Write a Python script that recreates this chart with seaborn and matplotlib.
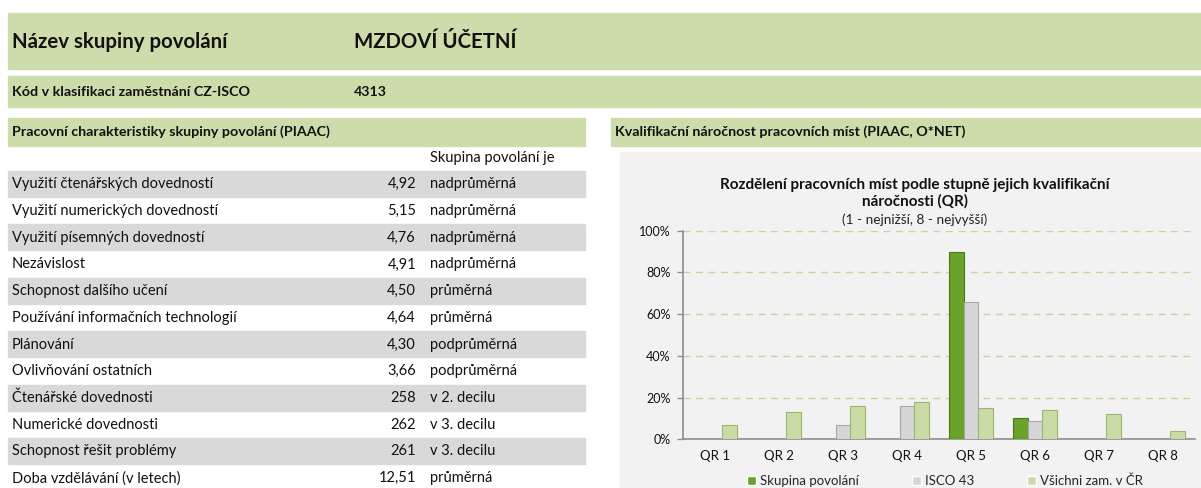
import numpy as np
import pandas as pd
import seaborn as sns
import matplotlib.pyplot as plt
from matplotlib.patches import Rectangle
from matplotlib.ticker import PercentFormatter

# header
occupation_title = "Název skupiny povolání"
occupation_name = "MZDOVÍ ÚČETNÍ"
code_title = "Kód v klasifikaci zaměstnání CZ-ISCO"
code_value = "4313"
left_section = "Pracovní charakteristiky skupiny povolání (PIAAC)"
right_section = "Kvalifikační náročnost pracovních míst (PIAAC, O*NET)"
level_header = "Skupina povolání je"

# table of characteristics
char_labels = ["Využití čtenářských dovedností", "Využití numerických dovedností",
               "Využití písemných dovedností", "Nezávislost", "Schopnost dalšího učení",
               "Používání informačních technologií", "Plánování", "Ovlivňování ostatních",
               "Čtenářské dovednosti", "Numerické dovednosti", "Schopnost řešit problémy",
               "Doba vzdělávání (v letech)"]
char_values = ["4,92", "5,15", "4,76", "4,91", "4,50", "4,64", "4,30", "3,66",
               "258", "262", "261", "12,51"]
char_levels = ["nadprůměrná", "nadprůměrná", "nadprůměrná", "nadprůměrná", "průměrná",
               "průměrná", "podprůměrná", "podprůměrná", "v 2. decilu", "v 3. decilu",
               "v 3. decilu", "průměrná"]

# chart data (% of jobs)
qr_labels = ["QR 1", "QR 2", "QR 3", "QR 4", "QR 5", "QR 6", "QR 7", "QR 8"]
series_names = ["Skupina povolání", "ISCO 43", "Všichni zam. v ČR"]
share_group = [0, 0, 0, 0, 90, 10, 0, 0]
share_isco = [0, 0, 7, 16, 66, 9, 0, 0]
share_all = [7, 13, 16, 18, 15, 14, 12, 4]

chart_title = "Rozdělení pracovních míst podle stupně jejich kvalifikační\nnáročnosti (QR)"
chart_subtitle = "(1 - nejnižší, 8 - nejvyšší)"

df = pd.DataFrame({
    "qr": qr_labels * 3,
    "series": np.repeat(series_names, len(qr_labels)),
    "share": share_group + share_isco + share_all,
})

sns.set_style("white")
plt.rcParams["font.family"] = ["Lato", "DejaVu Sans"]

W, H = 1201, 488
fig = plt.figure(figsize=(W / 100, H / 100), dpi=100)


def fx(x):
    return x / W


def fy(y):
    return 1 - y / H


def band(x0, y0, x1, y1, color):
    fig.patches.append(Rectangle((fx(x0), fy(y1)), fx(x1) - fx(x0), fy(y0) - fy(y1),
                                 transform=fig.transFigure, color=color, zorder=-5))


green_band = "#cddcab"
text_col = "#111111"
body_fs = 10.5
bold_fs = 10.3

# header bands
band(8, 13, W + 5, 69, green_band)
band(8, 76, W + 5, 107, green_band)
band(8, 118, 585, 146, green_band)
band(611, 118, W + 5, 146, green_band)

fig.text(fx(12), fy(42), occupation_title, fontsize=14.7, fontweight="bold", va="center", color=text_col)
fig.text(fx(354), fy(42), occupation_name, fontsize=14.7, fontweight="bold", va="center", color=text_col)
fig.text(fx(12), fy(92), code_title, fontsize=bold_fs, fontweight="bold", va="center", color=text_col)
fig.text(fx(354), fy(92), code_value, fontsize=bold_fs, fontweight="bold", va="center", color=text_col)
fig.text(fx(12), fy(132), left_section, fontsize=bold_fs, fontweight="bold", va="center", color=text_col)
fig.text(fx(615), fy(132), right_section, fontsize=bold_fs, fontweight="bold", va="center", color=text_col)

# characteristics table
fig.text(fx(430), fy(158), level_header, fontsize=body_fs, va="center", color=text_col)
row_h = 26.7
for i, (lab, val, lev) in enumerate(zip(char_labels, char_values, char_levels)):
    top = 171 + i * row_h
    if i % 2 == 0:
        band(8, top, 585, top + row_h - 0.8, "#d9d9d9")
    yc = top + row_h / 2
    fig.text(fx(12), fy(yc), lab, fontsize=body_fs, va="center", color=text_col)
    fig.text(fx(416), fy(yc), val, fontsize=body_fs, va="center", ha="right", color=text_col)
    fig.text(fx(430), fy(yc), lev, fontsize=body_fs, va="center", color=text_col)

# chart panel
band(620, 152, W + 5, H + 5, "#f2f2f2")
fig.text(fx(915), fy(193), chart_title, fontsize=11, fontweight="bold", ha="center",
         va="center", linespacing=1.2, color=text_col)
fig.text(fx(915), fy(220), chart_subtitle, fontsize=9.8, ha="center", va="center", color="#222222")

ax = fig.add_axes([fx(683), fy(439.3), (1195 - 683) / W, (439.3 - 230.7) / H])
ax.patch.set_alpha(0)

colors = ["#6aa22a", "#d6d6d6", "#c9dba6"]
edges = ["#4a7a18", "#a8a8a8", "#9cb86c"]
sns.barplot(data=df, x="qr", y="share", hue="series", hue_order=series_names,
            palette=colors, saturation=1, width=0.68, ax=ax, zorder=3)

for cont, ec in zip(ax.containers, edges):
    for p in cont:
        if p.get_height() > 0:
            p.set_edgecolor(ec)
            p.set_linewidth(0.8)
        else:
            p.set_linewidth(0)

ax.set_xlim(-0.5, len(qr_labels) - 0.5)
ax.set_ylim(0, 100)
ax.set_yticks([0, 20, 40, 60, 80, 100])
ax.yaxis.set_major_formatter(PercentFormatter(100, decimals=0))
ax.set_xlabel("")
ax.set_ylabel("")

for y in [20, 40, 60, 80, 100]:
    ax.axhline(y, color="#c3d69b", lw=1, ls=(0, (5, 4)), zorder=1)

for side in ["top", "right"]:
    ax.spines[side].set_visible(False)
for side in ["left", "bottom"]:
    ax.spines[side].set_color("#8c8c8c")
    ax.spines[side].set_linewidth(1.2)

ax.set_xticks(np.arange(-0.5, len(qr_labels)), minor=True)
ax.tick_params(axis="x", which="major", length=0, labelsize=9.5, pad=8, labelcolor=text_col)
ax.tick_params(axis="x", which="minor", length=4, width=1, color="#8c8c8c", direction="out")
ax.tick_params(axis="y", length=4, width=1, color="#8c8c8c", labelsize=9, pad=5,
               labelcolor=text_col, left=True)

handles, labels = ax.get_legend_handles_labels()
ax.get_legend().remove()
fig.legend(handles, labels, loc="center", bbox_to_anchor=(fx(945), fy(481)), ncol=3,
           frameon=False, fontsize=9.5, handlelength=0.7, handleheight=0.7,
           handletextpad=0.3, columnspacing=4.0, borderaxespad=0)

fig.savefig("out.png", dpi=100)
